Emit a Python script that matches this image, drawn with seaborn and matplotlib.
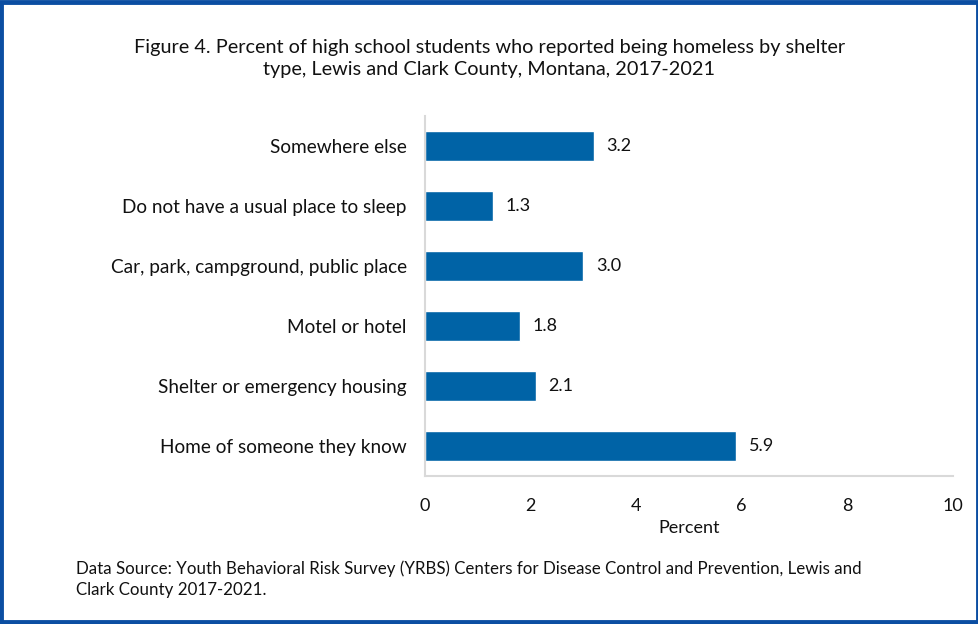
import pandas as pd
import seaborn as sns
import matplotlib.pyplot as plt
from matplotlib.patches import Rectangle

# shelter types, top to bottom as shown
categories = ["Somewhere else",
              "Do not have a usual place to sleep",
              "Car, park, campground, public place",
              "Motel or hotel",
              "Shelter or emergency housing",
              "Home of someone they know"]
percent = [3.2, 1.3, 3.0, 1.8, 2.1, 5.9]

df = pd.DataFrame({"type": categories, "pct": percent})

sns.set_style("white")
plt.rcParams["font.family"] = ["Lato", "DejaVu Sans"]

fig = plt.figure(figsize=(9.79, 6.24), dpi=100)
ax = fig.add_axes([0.434, 0.237, 0.539, 0.577])

sns.barplot(data=df, x="pct", y="type", color="#0063a6", width=0.5,
            saturation=1, ax=ax)

for c in ax.containers:
    ax.bar_label(c, fmt="%.1f", padding=9, fontsize=13, color="#111111")

ax.set_xlim(0, 10)
ax.set_xticks([0, 2, 4, 6, 8, 10])
ax.set_ylabel("")
ax.set_xlabel("Percent", fontsize=13, color="#111111", labelpad=4)
ax.tick_params(axis="x", labelsize=13, colors="#111111", length=0, pad=16)
ax.tick_params(axis="y", labelsize=13.7, colors="#111111", length=0, pad=13)

sns.despine(ax=ax)
for s in ["left", "bottom"]:
    ax.spines[s].set_color("#d9d9d9")
    ax.spines[s].set_linewidth(1.5)

fig.text(0.5, 0.906, "Figure 4. Percent of high school students who reported being homeless by shelter\n"
         "type, Lewis and Clark County, Montana, 2017-2021",
         ha="center", va="center", fontsize=14.3, color="#111111", linespacing=1.4)

fig.text(0.078, 0.072, "Data Source: Youth Behavioral Risk Survey (YRBS) Centers for Disease Control and Prevention, Lewis and\n"
         "Clark County 2017-2021.",
         ha="left", va="center", fontsize=12.2, color="#111111", linespacing=1.4)

# blue frame around the whole figure
fig.patches.append(Rectangle((0.0015, 0.0025), 0.997, 0.995, transform=fig.transFigure,
                             fill=False, edgecolor="#0b4ea2", linewidth=3.5))

fig.savefig("out.png", dpi=100)
